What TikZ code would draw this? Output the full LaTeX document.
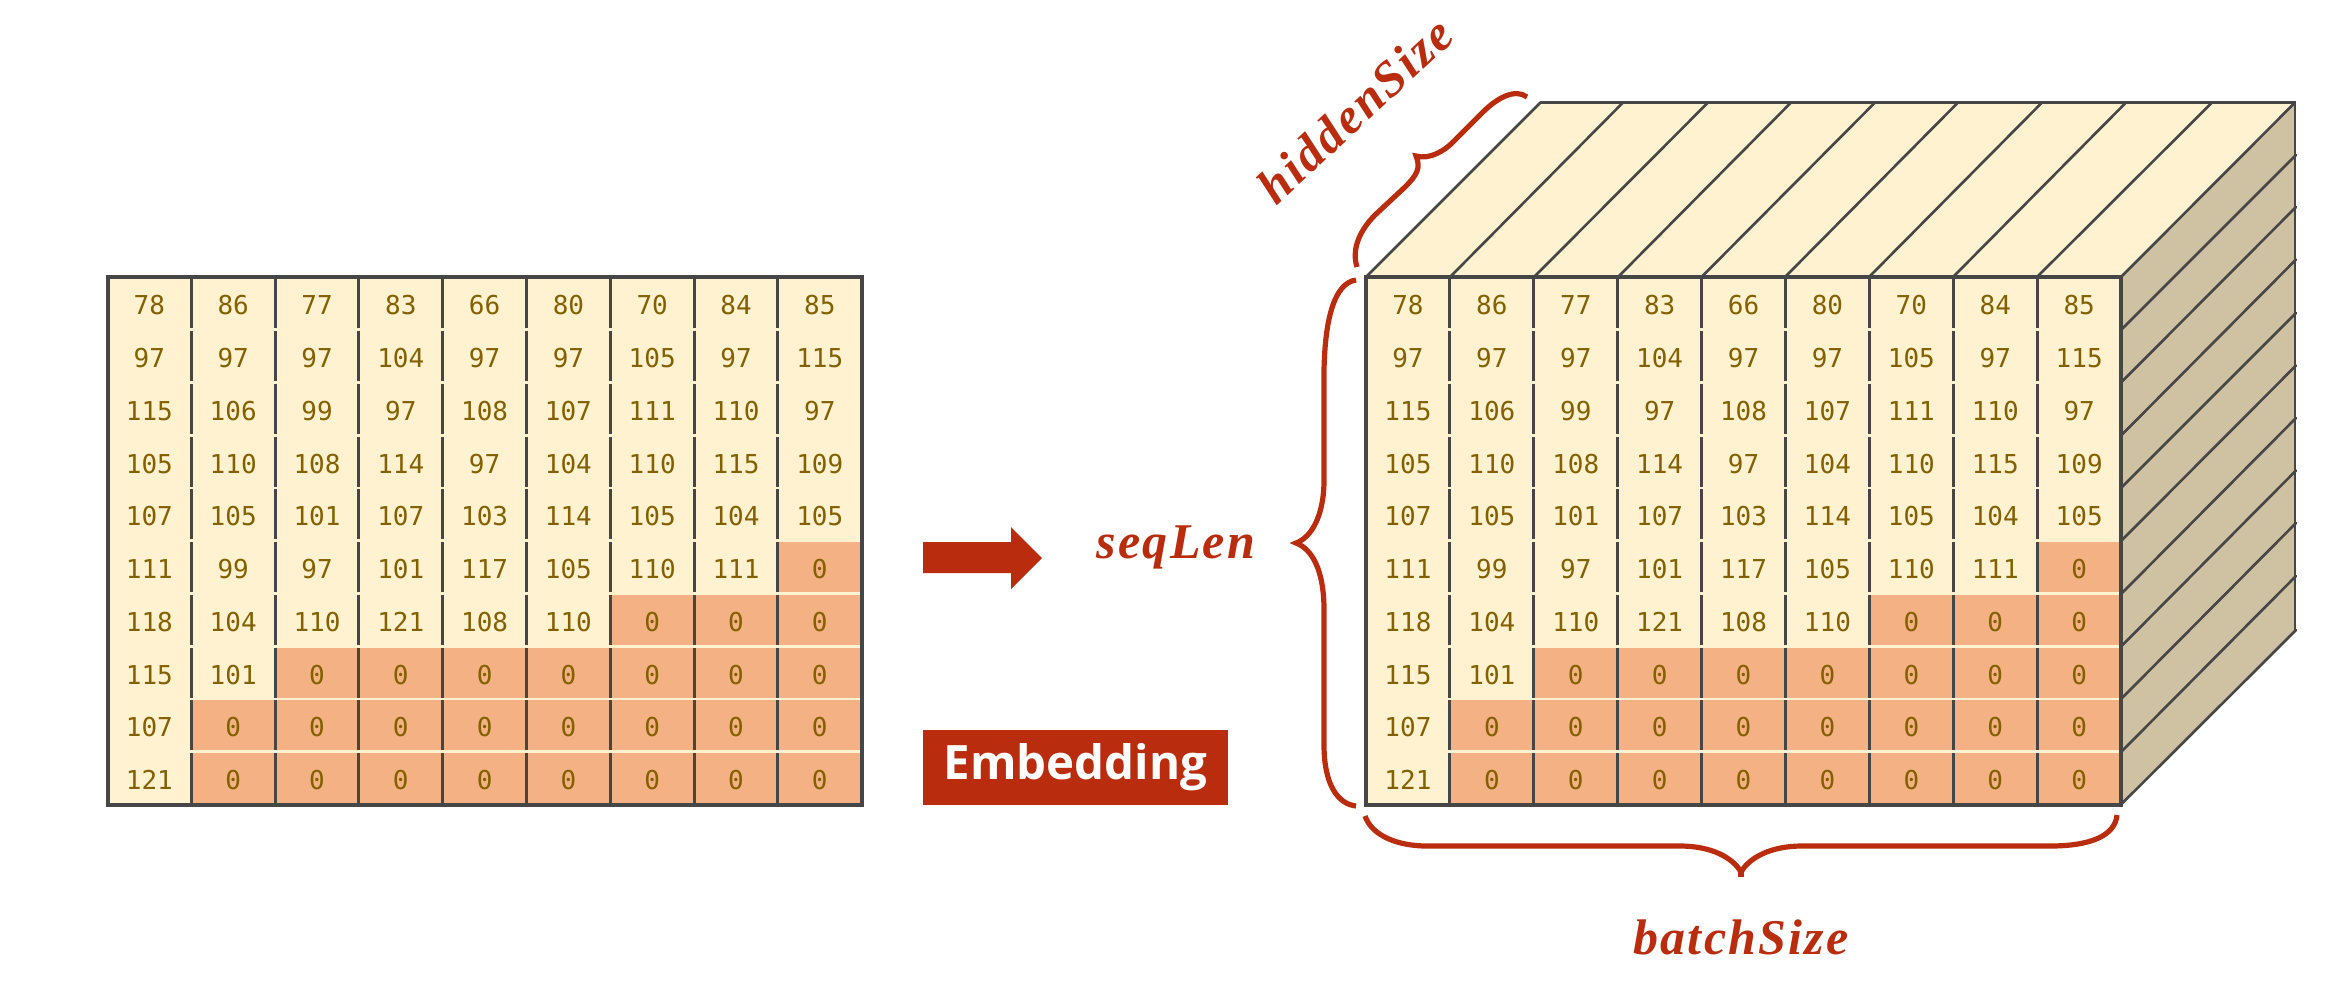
\documentclass[tikz,border=0pt]{standalone}
\usepackage{fontspec}
\setmainfont{Open Sans}
\newfontfamily\numfont{DejaVu Sans Mono}
\newfontfamily\labfont[LetterSpace=4.5]{Liberation Serif}
\definecolor{creamc}{HTML}{FFF2D0}
\definecolor{zeroc}{HTML}{F4B183}
\definecolor{sidec}{HTML}{CFC2A3}
\definecolor{numc}{HTML}{836000}
\definecolor{linec}{HTML}{464646}
\definecolor{redc}{HTML}{B92C0E}
\tikzset{
  cellbox/.style={rectangle,inner sep=0pt,minimum width=42pt,minimum height=26.4pt,text height=11.5pt,text depth=0pt,text=numc,font=\numfont\fontsize{13}{14}\selectfont},
  gridline/.style={draw=linec,line width=1.5pt},
  borderline/.style={draw=linec,line width=2pt},
  sepline/.style={draw=creamc,line width=1.4pt},
  faceline/.style={draw=linec,line width=1.3pt,line cap=round},
  bracecurve/.style={draw=redc,line width=2.6pt},
  dimlabel/.style={text=redc,inner sep=0pt,font=\labfont\bfseries\itshape\fontsize{25}{28}\selectfont},
}
\newcommand{\gridtable}[3]{% x0, cell width, prefix
  \fill[creamc] (#1,277) rectangle ({#1+9*#2},804.5);
  \foreach \rowvals [count=\r] in {
    {78,86,77,83,66,80,70,84,85},
    {97,97,97,104,97,97,105,97,115},
    {115,106,99,97,108,107,111,110,97},
    {105,110,108,114,97,104,110,115,109},
    {107,105,101,107,103,114,105,104,105},
    {111,99,97,101,117,105,110,111,0},
    {118,104,110,121,108,110,0,0,0},
    {115,101,0,0,0,0,0,0,0},
    {107,0,0,0,0,0,0,0,0},
    {121,0,0,0,0,0,0,0,0}}{
    \foreach \v [count=\c] in \rowvals {
      \ifnum\v=0 \def\cellcol{zeroc}\else\def\cellcol{creamc}\fi
      \node[cellbox,fill=\cellcol,minimum width={#2*0.5pt}] (#3-\r-\c) at ({#1+(\c-0.5)*#2},{277+(\r-0.5)*52.75}) {\v};
    }
  }
  \foreach \c in {1,...,8} \path[gridline] ({#1+\c*#2},277) -- ({#1+\c*#2},804.5);
  \foreach \r in {1,...,9} \path[sepline] ({#1+1},{277+\r*52.75}) -- ({#1+9*#2-1},{277+\r*52.75});
  \path[borderline] (#1,277) rectangle ({#1+9*#2},804.5);
}
\begin{document}
\begin{tikzpicture}[x=0.5pt,y=-0.5pt]
\useasboundingbox (0,0) rectangle (2327,987);
% left table
\gridtable{107.5}{83.8}{a}
% cuboid faces
\path[fill=creamc] (1366,277) -- (1540.5,102.5) -- (2295,102.5) -- (2121,277) -- cycle;
\path[fill=sidec] (2121,277) -- (2295,102.5) -- (2295,630) -- (2121,804.5) -- cycle;
\foreach \f/\b in {1366/1540.5,1450/1623,1534/1708,1618/1791,1701.5/1875,1785/1958,1869/2042,1953/2126,2037/2212,2121/2295}
  \path[faceline] (\f,277) -- (\b,102.5);
\foreach \f/\b in {330/155,382.5/207,435.5/259.5,488/313,541/365.5,594/418,646.5/470.5,699/523,752/576,804.5/630}
  \path[faceline] (2121,\f) -- (2296,\b);
\path[faceline] (1540.5,102.5) -- (2295,102.5) -- (2295,630);
% right table
\gridtable{1366}{83.9}{b}
% arrow and label
\path[fill=redc] (923,542) -- (1011,542) -- (1011,527) -- (1042,558) -- (1011,589) -- (1011,573) -- (923,573) -- cycle;
\node[rectangle,fill=redc,minimum width=152.5pt,minimum height=37.5pt,inner sep=0pt,text=white,font=\fontsize{23.7}{26}\selectfont\bfseries] (emb) at (1075.5,767.5) {Embedding};
% braces
\path[bracecurve] (1356,280) .. controls (1334,283) and (1325,320) .. (1324,370) -- (1324,480) .. controls (1324,515) and (1312,537) .. (1296,543) .. controls (1312,549) and (1324,570) .. (1324,610) -- (1324,745) .. controls (1324,785) and (1338,804) .. (1356,806);
\path[bracecurve] (1365,816) .. controls (1372,836) and (1398,846) .. (1427,846) -- (1680,846) .. controls (1712,846) and (1733,858) .. (1741,872) .. controls (1749,858) and (1770,846) .. (1802,846) -- (2050,846) .. controls (2090,846) and (2115,836) .. (2117,815);
\path[bracecurve] (1741,868) -- (1741,877);
\path[bracecurve] (1357,267) .. controls (1350,245) and (1365,225) .. (1375,215) -- (1405,187) .. controls (1417,175) and (1421,168) .. (1416,156) .. controls (1430,160) and (1445,150) .. (1452,143) -- (1483,112) .. controls (1497,98) and (1515,88) .. (1527,97);
% labels
\node[dimlabel] (seq) at (1176,547) {seqLen};
\node[dimlabel] (batch) at (1741,937) {batchSize};
\node[dimlabel,rotate=43] (hidden) at (1355,110) {hiddenSize};
\end{tikzpicture}
\end{document}
